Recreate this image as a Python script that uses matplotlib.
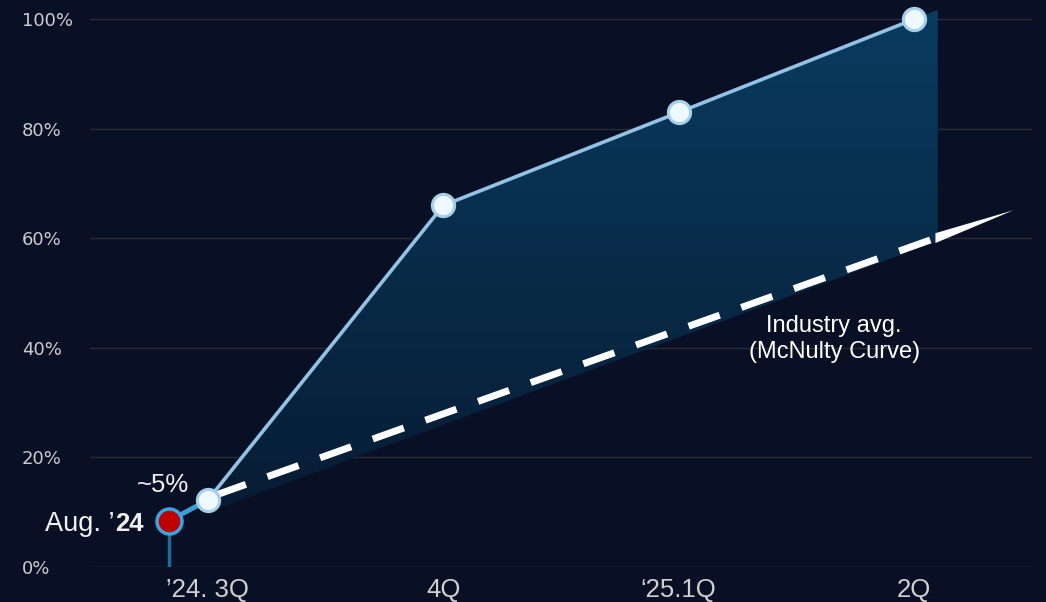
import numpy as np
import matplotlib
matplotlib.use("Agg")
import matplotlib.pyplot as plt
from matplotlib.patches import Polygon
from matplotlib.colors import LinearSegmentedColormap

# data
quarters = ["\u201924. 3Q", "4Q", "\u201825.1Q", "2Q"]
company_pct = [12.2, 66.0, 83.0, 100.0]
industry_x = [0.0, 3.42]          # straight industry line, ends at the arrow tip
industry_pct = [12.6, 65.1]
aug_x, aug_pct = -0.165, 8.4      # Aug '24 marker (~5%)
fill_right = 3.1                  # right edge of shaded gap
y_ticks = [0, 20, 40, 60, 80, 100]

bg = "#091026"
plt.rcParams["font.family"] = ["Liberation Sans", "DejaVu Sans"]

fig = plt.figure(figsize=(10.46, 6.02), dpi=100, facecolor=bg)
ax = fig.add_axes([90 / 1046, 35 / 602, 942 / 1046, 567 / 602])
ax.set_facecolor(bg)
ax.set_xlim(-0.5, 3.5)
ax.set_ylim(0, 103.5)

for s in ax.spines.values():
    s.set_visible(False)
ax.set_yticks(y_ticks)
ax.set_yticklabels([f"{v}%" for v in y_ticks], family="DejaVu Sans")
ax.grid(axis="y", color="#2a2c34", linewidth=1)
ax.set_axisbelow(True)
ax.tick_params(axis="y", length=0, pad=49, labelsize=13, labelcolor="#cccccc")
for lab in ax.get_yticklabels():
    lab.set_horizontalalignment("left")
ax.set_xticks(range(len(quarters)))
ax.set_xticklabels(quarters)
ax.tick_params(axis="x", length=0, pad=8, labelsize=18.5, labelcolor="#d0d0d0")

# shaded gap between company line and industry line
xs = np.linspace(0, fill_right, 200)
qx = np.arange(len(company_pct))
slope_end = company_pct[-1] - company_pct[-2]
top = np.where(xs <= qx[-1], np.interp(xs, qx, company_pct),
               company_pct[-1] + (xs - qx[-1]) * slope_end)
ind_slope = (industry_pct[1] - industry_pct[0]) / (industry_x[1] - industry_x[0])
bottom = industry_pct[0] + ind_slope * xs - np.linspace(2.6, 0.7, len(xs))
poly = Polygon(np.column_stack([np.r_[xs, xs[::-1]], np.r_[top, bottom[::-1]]]),
               closed=True, facecolor="none", edgecolor="none")
ax.add_patch(poly)
grad = np.linspace(0, 1, 256).reshape(-1, 1)
cmap = LinearSegmentedColormap.from_list("g", ["#071a31", "#093c60"])
im = ax.imshow(grad, extent=[0, fill_right, 5, 103], origin="lower",
               aspect="auto", cmap=cmap, zorder=1)
im.set_clip_path(poly)

# industry dashed line + tapered tail
dash_end = 3.09
ax.plot([industry_x[0] + 0.03, dash_end],
        [industry_pct[0] + ind_slope * 0.03, industry_pct[0] + ind_slope * dash_end],
        color="white", linewidth=5, dashes=(4.75, 3.3), zorder=3)
tx = np.linspace(dash_end, industry_x[1], 30)
ty = industry_pct[0] + ind_slope * tx
hw = np.linspace(0.9, 0.0, len(tx))
ax.fill(np.r_[tx, tx[::-1]], np.r_[ty + hw, (ty - hw)[::-1]],
        color="white", linewidth=0, zorder=3)

# Aug '24 marker
ax.plot([aug_x, aug_x], [0, aug_pct], color="#1e6d99", linewidth=2.5, zorder=2)
ax.plot([aug_x, 0], [aug_pct, company_pct[0]], color="#3a9fd8", linewidth=3.5, zorder=4)
ax.plot([aug_x], [aug_pct], "o", markersize=18, markerfacecolor="#c00000",
        markeredgecolor="#3aa5e0", markeredgewidth=2.5, zorder=6)

# company line
ax.plot(qx, company_pct, color="#93c3e4", linewidth=2.6, zorder=4)
ax.plot(qx, company_pct, "o", markersize=16, markerfacecolor="#eef8fe",
        markeredgecolor="#a6d0ea", markeredgewidth=2.2, zorder=5)

ax.text(-0.19, 14.9, "~5%", color="#f0f0f0", fontsize=18.5, ha="center", va="center")
ax.text(2.66, 41.6, "Industry avg.\n(McNulty Curve)", color="white", fontsize=17,
        ha="center", va="center", linespacing=1.2)

t24 = ax.text(-0.273, 7.8, "24", color="#f0f0f0", fontsize=18.5, fontweight="bold",
              ha="right", va="center")
fig.canvas.draw()
bb = t24.get_window_extent()
x_left = ax.transData.inverted().transform((bb.x0, 0))[0]
ax.text(x_left, 7.8, "Aug. \u2019", color="#f0f0f0", fontsize=19.5, ha="right", va="center")

fig.savefig("out.png", dpi=100, facecolor=bg)
